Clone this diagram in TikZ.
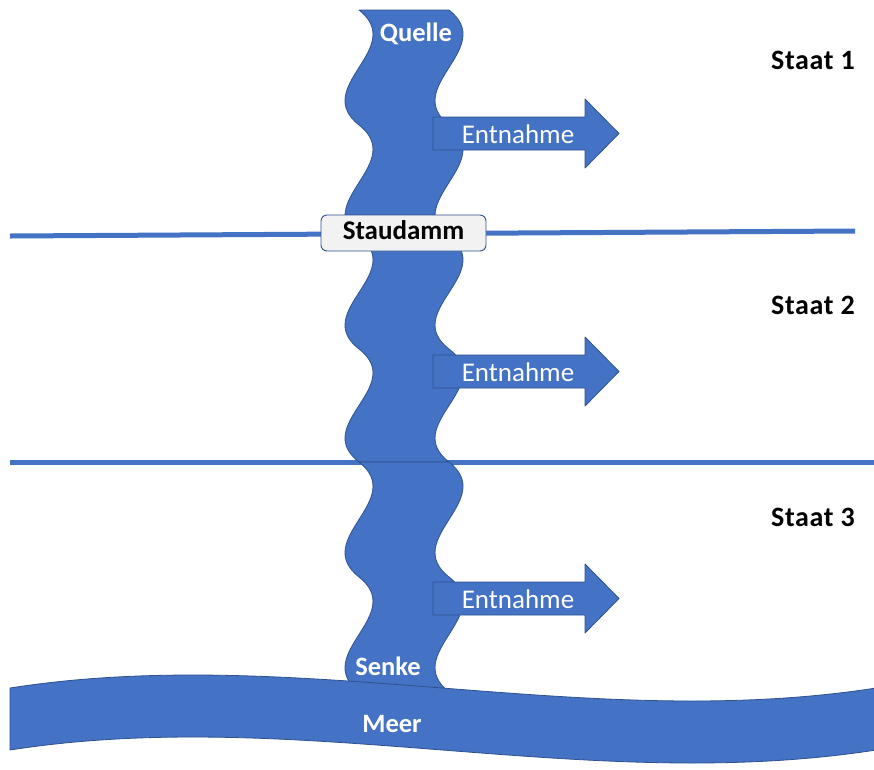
\documentclass[tikz,border=0pt]{standalone}
\usepackage{fontspec}
\setmainfont{Carlito}
\newfontfamily\statefont[LetterSpace=2.4]{Carlito}
\definecolor{riverblue}{HTML}{4472C4}
\definecolor{edgeblue}{HTML}{2F528F}
\definecolor{damfill}{HTML}{F2F2F2}

% one river stretch: two full waves between the given top and bottom
\newcommand\riverband[2]{%
  \pgfmathsetmacro\rbA{#1+(#2-#1)/6}%
  \pgfmathsetmacro\rbB{#1+(#2-#1)/3}%
  \pgfmathsetmacro\rbC{#1+(#2-#1)/2}%
  \pgfmathsetmacro\rbD{#1+2*(#2-#1)/3}%
  \pgfmathsetmacro\rbE{#1+5*(#2-#1)/6}%
  \path[water] (359,#1) -- (449,#1)
    .. controls (497.5,\rbA) and (400.5,\rbB) .. (449,\rbC)
    .. controls (497.5,\rbD) and (400.5,\rbE) .. (449,#2)
    -- (359,#2)
    .. controls (310.5,\rbE) and (407.5,\rbD) .. (359,\rbC)
    .. controls (310.5,\rbB) and (407.5,\rbA) .. (359,#1) -- cycle;}

% withdrawal arrow centred on height #1, label node named #2
\newcommand\withdrawal[2]{%
  \path[water] (433,#1-16.5) -- (585,#1-16.5) -- (585,#1-34.5) -- (619,#1)
    -- (585,#1+34.5) -- (585,#1+16.5) -- (433,#1+16.5) -- cycle;
  \node[arrowtext] (#2) at (518,#1+9.5) {Entnahme};}

\begin{document}
\begin{tikzpicture}[x=1pt,y=-1pt,
  water/.style={fill=riverblue,draw=edgeblue,line width=0.8pt,line join=round},
  border/.style={draw=riverblue,line width=5pt},
  dambox/.style={draw=edgeblue,fill=damfill,line width=0.9pt,rounded corners=6pt,
    minimum width=165pt,minimum height=36pt,inner sep=0pt},
  whitelabel/.style={text=white,font=\fontsize{26.5}{30}\selectfont\bfseries,anchor=base,inner sep=0pt},
  blacklabel/.style={text=black,font=\fontsize{27}{30}\selectfont\bfseries,anchor=base,inner sep=0pt},
  statelabel/.style={text=black,font=\statefont\fontsize{28}{30}\selectfont\bfseries,anchor=base west,inner sep=0pt},
  arrowtext/.style={text=white,font=\fontsize{27}{30}\selectfont,anchor=base,inner sep=0pt}]
\useasboundingbox (0,0) rectangle (874,769);
\fill[white] (0,0) rectangle (874,769);

% state borders
\coordinate (b1w) at (10,236);
\coordinate (b1e) at (855,231);
\coordinate (b2w) at (10,462);
\coordinate (b2e) at (874,462);
\draw[border] (b1w) -- (b1e);
\draw[border] (b2w) -- (b2e);

% river, one stretch per state
\riverband{10}{240}
\riverband{236}{462}
\riverband{462}{692}

% dam
\node[dambox] (dam) at (403.5,233) {};
\node[blacklabel] (damlabel) at (403.5,239.5) {Staudamm};

% withdrawals
\withdrawal{133.5}{take1}
\withdrawal{371.5}{take2}
\withdrawal{598.5}{take3}

% sea
\path[water] (10,688) .. controls (298,643) and (586,733) .. (876,688)
  -- (876,750) .. controls (586,795) and (298,705) .. (10,750) -- cycle;

% labels
\node[whitelabel] (source) at (416,41) {Quelle};
\node[whitelabel] (sink) at (388,675) {Senke};
\node[whitelabel] (sea) at (392,732) {Meer};
\node[statelabel] (state1) at (771,69.3) {Staat 1};
\node[statelabel] (state2) at (771,314.3) {Staat 2};
\node[statelabel] (state3) at (771,526.3) {Staat 3};
\end{tikzpicture}
\end{document}
